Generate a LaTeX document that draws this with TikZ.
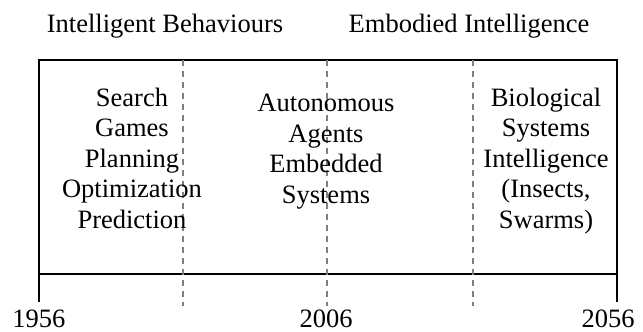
\documentclass[tikz,border=0pt]{standalone}
\usepackage{fontspec}
\setmainfont{Liberation Serif}
\begin{document}
\begin{tikzpicture}[x=1pt,y=-1pt,
  lbl/.style={font=\fontsize{26.5}{30.5}\selectfont, inner sep=0pt, align=center},
  solidline/.style={line width=1.6pt},
  dashline/.style={gray, line width=1.1pt, dash pattern=on 6pt off 5pt}]
\useasboundingbox (0,0) rectangle (643,332);
% box
\coordinate (tl) at (39,60);
\coordinate (tr) at (617,60);
\coordinate (bl) at (39,274);
\coordinate (br) at (617,274);
\coordinate (bll) at (39,302);
\coordinate (brr) at (617,302);
\draw[solidline] (bll) -- (tl) -- (tr) -- (brr);
\draw[solidline] (bl) -- (br);
% dashed
\foreach \x/\n in {183/a,327/b,473/c}{
  \coordinate (d\n1) at (\x,60);
  \coordinate (d\n2) at (\x,306);
  \draw[dashline] (d\n1) -- (d\n2);
}
% top labels
\node[lbl, anchor=base] (ib) at (165,32) {Intelligent Behaviours};
\node[lbl, anchor=base] (ei) at (469,32) {Embodied Intelligence};
% columns (base anchor = last line)
\node[lbl, anchor=base] (c1) at (132,228) {Search\\Games\\Planning\\Optimization\\Prediction};
\node[lbl, anchor=base] (c2) at (326,203) {Autonomous\\Agents\\Embedded\\Systems};
\node[lbl, anchor=base] (c3) at (546,228) {Biological\\Systems\\Intelligence\\(Insects,\\Swarms)};
% years
\node[lbl, anchor=base] (y1) at (39,327) {1956};
\node[lbl, anchor=base] (y2) at (326,327) {2006};
\node[lbl, anchor=base] (y3) at (608,327) {2056};
\end{tikzpicture}
\end{document}
